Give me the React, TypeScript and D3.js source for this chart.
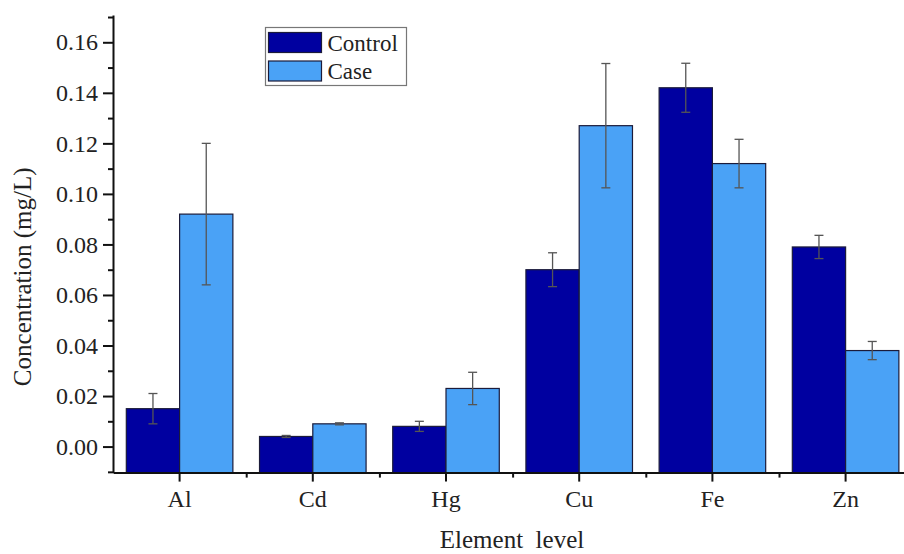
import React, { useEffect, useRef } from 'react';
import { select, scaleBand, scaleLinear, axisLeft, axisBottom, format, range } from 'd3';

const elements = ['Al', 'Cd', 'Hg', 'Cu', 'Fe', 'Zn'];
const controlValues = [0.015, 0.004, 0.008, 0.07, 0.142, 0.079];
const controlErrors = [0.006, 0.0004, 0.002, 0.0067, 0.0097, 0.0046];
const caseValues = [0.092, 0.009, 0.023, 0.127, 0.112, 0.038];
const caseErrors = [0.028, 0.0004, 0.0064, 0.0246, 0.0096, 0.0036];
const majorTicks = [0, 0.02, 0.04, 0.06, 0.08, 0.1, 0.12, 0.14, 0.16];
const minorTicks = [-0.01, 0.01, 0.03, 0.05, 0.07, 0.09, 0.11, 0.13, 0.15, 0.17];
const seriesNames = ['Control', 'Case'];
const seriesColors = ['#0000a0', '#4aa2f6'];

const FONT = '"Liberation Serif", "Times New Roman", serif';

function App() {
  const svgRef = useRef<SVGSVGElement>(null);

  useEffect(() => {
    const width = 904;
    const height = 554;
    const left = 113;
    const bottom = 472.6;
    const top = 15;
    const step = 133.2;

    const svg = select(svgRef.current);
    svg.selectAll('*').remove();

    const y = scaleLinear().domain([-0.0103, 0.1708]).range([bottom, top]);
    const x = scaleBand<string>()
      .domain(elements)
      .range([left, left + step * elements.length])
      .paddingInner(0.2)
      .paddingOuter(0.1);
    const inner = scaleBand<number>().domain([0, 1]).range([0, x.bandwidth()]);
    const bounds = scaleLinear().domain([0, elements.length]).range([left, left + step * elements.length]);

    const rows = elements.map((el, i) => [
      { el, s: 0, v: controlValues[i], e: controlErrors[i] },
      { el, s: 1, v: caseValues[i], e: caseErrors[i] },
    ]).flat();

    // bars start at the bottom of the axis
    svg.append('g')
      .selectAll('rect')
      .data(rows)
      .join('rect')
      .attr('x', (d) => (x(d.el) as number) + (inner(d.s) as number))
      .attr('y', (d) => y(d.v))
      .attr('width', inner.bandwidth())
      .attr('height', (d) => y.range()[0] - y(d.v))
      .attr('fill', (d) => seriesColors[d.s])
      .attr('stroke', '#1b1b3a')
      .attr('stroke-width', 1.2);

    // error bars
    const eb = svg.append('g').attr('stroke', '#555').attr('stroke-width', 1.3);
    rows.forEach((d) => {
      const cx = (x(d.el) as number) + (inner(d.s) as number) + inner.bandwidth() / 2;
      const y1 = y(d.v + d.e);
      const y2 = y(d.v - d.e);
      eb.append('line').attr('x1', cx).attr('x2', cx).attr('y1', y1).attr('y2', y2);
      eb.append('line').attr('x1', cx - 4.5).attr('x2', cx + 4.5).attr('y1', y1).attr('y2', y1);
      eb.append('line').attr('x1', cx - 4.5).attr('x2', cx + 4.5).attr('y1', y2).attr('y2', y2);
    });

    // y axis
    const yMinor = svg.append('g').attr('transform', `translate(${left},0)`)
      .call(axisLeft(y).tickValues(minorTicks).tickSize(5).tickSizeOuter(0).tickFormat(() => ''));
    yMinor.select('.domain').remove();
    const yAxis = svg.append('g').attr('transform', `translate(${left},0)`)
      .call(axisLeft(y).tickValues(majorTicks).tickSize(10).tickSizeOuter(0).tickPadding(5).tickFormat(format('.2f')));

    // x axis
    const xMinor = svg.append('g').attr('transform', `translate(0,${bottom})`)
      .call(axisBottom(bounds).tickValues(range(1, elements.length)).tickSize(5).tickSizeOuter(0).tickFormat(() => ''));
    xMinor.select('.domain').remove();
    const xAxis = svg.append('g').attr('transform', `translate(0,${bottom})`)
      .call(axisBottom(x).tickSize(9).tickSizeOuter(0).tickPadding(8));

    [yAxis, xAxis, yMinor, xMinor].forEach((g) => {
      g.attr('font-family', FONT);
      g.selectAll('.domain').attr('stroke', '#111').attr('stroke-width', 2);
      g.selectAll('.tick line').attr('stroke', '#111').attr('stroke-width', 2);
      g.selectAll('.tick text')
        .attr('font-family', FONT)
        .attr('font-size', 24)
        .attr('fill', '#222');
    });

    // axis titles
    svg.append('text')
      .attr('transform', `translate(31,${(top + bottom) / 2 + 33}) rotate(-90)`)
      .attr('text-anchor', 'middle')
      .attr('font-family', FONT)
      .attr('font-size', 25)
      .attr('fill', '#222')
      .text('Concentration (mg/L)');

    svg.append('text')
      .attr('x', 512)
      .attr('y', 548)
      .attr('text-anchor', 'middle')
      .attr('font-family', FONT)
      .attr('font-size', 25)
      .attr('fill', '#222')
      .style('white-space', 'pre')
      .text('Element  level');

    // legend
    const lg = svg.append('g').attr('transform', 'translate(265.5,27.5)');
    lg.append('rect')
      .attr('width', 141).attr('height', 58)
      .attr('fill', '#fff').attr('stroke', '#777').attr('stroke-width', 1.2);
    seriesNames.forEach((name, i) => {
      lg.append('rect')
        .attr('x', 3).attr('y', 5 + i * 28.5)
        .attr('width', 53).attr('height', 20)
        .attr('fill', seriesColors[i]).attr('stroke', '#1b1b3a').attr('stroke-width', 1.2);
      lg.append('text')
        .attr('x', 62).attr('y', 23 + i * 28.5)
        .attr('font-family', FONT).attr('font-size', 23).attr('fill', '#222')
        .text(name);
    });

    svg.attr('width', width).attr('height', height);
  }, []);

  return (
    <div style={{ position: 'absolute', left: 0, top: 0, background: '#fff' }}>
      <svg ref={svgRef} width={904} height={554} style={{ display: 'block' }}></svg>
    </div>
  );
}

export default App;
